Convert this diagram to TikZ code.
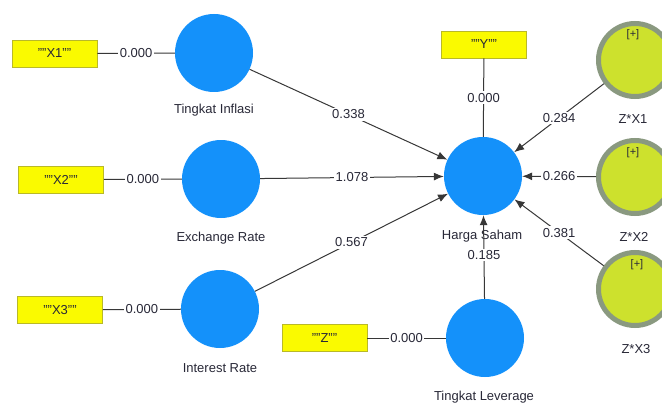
\documentclass[tikz,border=0pt]{standalone}
\usepackage{fontspec}
\setmainfont{Liberation Sans}
\usetikzlibrary{arrows.meta}

\definecolor{latentblue}{RGB}{20,145,250}
\definecolor{indyellow}{RGB}{250,250,0}
\definecolor{indborder}{RGB}{185,185,40}
\definecolor{modfill}{RGB}{205,225,45}
\definecolor{modring}{RGB}{138,153,128}
\definecolor{txt}{RGB}{40,40,55}
\definecolor{edge}{RGB}{55,55,55}

\begin{document}
\begin{tikzpicture}[x=1pt,y=-1pt,
  font=\fontsize{13}{15}\selectfont,
  latent/.style={circle, fill=latentblue, minimum size=78pt, inner sep=0pt},
  moderator/.style={circle, fill=modfill, draw=modring, line width=5pt,
                    minimum size=73pt, inner sep=0pt},
  indicator/.style={rectangle, fill=indyellow, draw=indborder, line width=0.8pt,
                    minimum width=85pt, minimum height=27pt, inner sep=0pt, text=txt},
  lvname/.style={text=txt, inner sep=0pt},
  plus/.style={text=txt, font=\fontsize{11}{13}\selectfont, inner sep=0pt},
  coef/.style={fill=white, text=txt, inner sep=1.5pt},
  loading/.style={draw=edge, line width=1pt},
  structural/.style={draw=edge, line width=1pt, -{Latex[length=10pt,width=8pt]}}
]
\useasboundingbox (0,0) rectangle (662,404);
\clip (0,0) rectangle (662,404);

% latent variables
\node[latent] (infl) at (214,53) {};
\node[latent] (exch) at (221,179) {};
\node[latent] (intr) at (220,309) {};
\node[latent] (harga) at (483,176) {};
\node[latent] (lev) at (485,338) {};

% interaction terms
\node[moderator] (zx1) at (635,60) {};
\node[moderator] (zx2) at (635,177) {};
\node[moderator] (zx3) at (635,289) {};
\node[plus] (p1) at (633,35) {[+]};
\node[plus] (p2) at (633,153) {[+]};
\node[plus] (p3) at (637,265) {[+]};

% indicators
\node[indicator] (x1) at (54.5,53.5) {""X1""};
\node[indicator] (x2) at (61,179.5) {""X2""};
\node[indicator] (x3) at (60,310) {""X3""};
\node[indicator] (y) at (484,44.5) {""Y""};
\node[indicator] (z) at (324.5,338) {""Z""};

% construct names
\node[lvname] (n1) at (214,110) {Tingkat Inflasi};
\node[lvname] (n2) at (221,238) {Exchange Rate};
\node[lvname] (n3) at (220,368) {Interest Rate};
\node[lvname] (n4) at (482,236) {Harga Saham};
\node[lvname] (n5) at (484,397) {Tingkat Leverage};
\node[lvname] (n6) at (633,119) {Z*X1};
\node[lvname] (n7) at (634,237) {Z*X2};
\node[lvname] (n8) at (636,349) {Z*X3};

% outer loadings
\path[loading] (x1) -- node[coef] {0.000} (infl);
\path[loading] (x2) -- node[coef] {0.000} (exch);
\path[loading] (x3) -- node[coef] {0.000} (intr);
\path[loading] (y) -- node[coef] {0.000} (harga);
\path[loading] (z) -- node[coef] {0.000} (lev);

% path coefficients
\path[structural] (infl) -- node[coef] {0.338} (harga);
\path[structural] (exch) -- node[coef] {1.078} (harga);
\path[structural] (intr) -- node[coef] {0.567} (harga);
\path[structural] (zx1) -- node[coef] {0.284} (harga);
\path[structural] (zx2) -- node[coef] {0.266} (harga);
\path[structural] (zx3) -- node[coef] {0.381} (harga);
\path[structural] (lev) -- node[coef, pos=0.52] {0.185} (harga);
\end{tikzpicture}
\end{document}
